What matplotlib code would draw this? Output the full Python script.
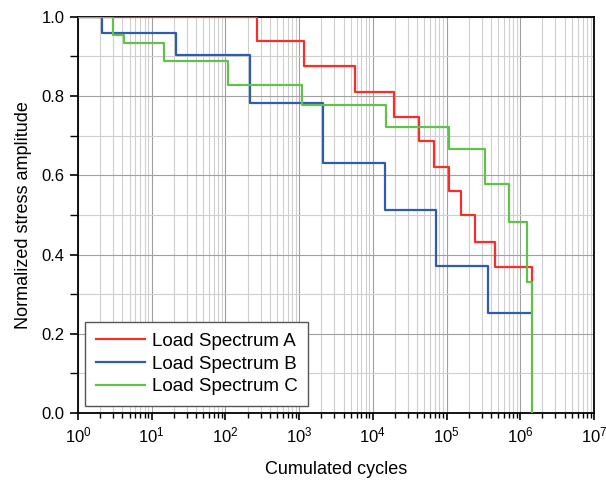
import matplotlib
matplotlib.use("Agg")
import matplotlib.pyplot as plt
import numpy as np
from matplotlib.ticker import LogLocator, MultipleLocator

plt.rcParams['font.family'] = ['Liberation Sans', 'DejaVu Sans']

# Step breakpoints (cumulated cycles) and levels (normalized stress amplitude)
cycles_A = [1, 270, 1170, 5700, 19500, 42500, 67600, 107000, 158000, 245000, 455000, 1450000]
levels_A = [1.0, 0.939, 0.876, 0.81, 0.747, 0.687, 0.621, 0.56, 0.50, 0.432, 0.369, 0.333]

cycles_B = [1, 2.1, 21.4, 215, 2130, 14700, 72000, 365000, 1400000]
levels_B = [1.0, 0.96, 0.904, 0.783, 0.631, 0.513, 0.371, 0.253, 0.253]

cycles_C = [1, 2.97, 4.2, 14.7, 109, 1090, 15100, 107000, 333000, 708000, 1230000, 1450000]
levels_C = [1.0, 0.955, 0.934, 0.889, 0.828, 0.778, 0.722, 0.667, 0.578, 0.482, 0.331, 0.0]

labels = ["Load Spectrum A", "Load Spectrum B", "Load Spectrum C"]
colors = ["#F5302B", "#2F5BB0", "#62C04C"]

fig = plt.figure(figsize=(6.06, 4.82), dpi=100)
ax = fig.add_axes([0.1287, 0.143, 0.8515, 0.822])

for cyc, lev, lab, col in zip([cycles_A, cycles_B, cycles_C],
                              [levels_A, levels_B, levels_C], labels, colors):
    ax.step(cyc, lev, where='post', color=col, lw=1.6, label=lab, zorder=3)

ax.set_xscale('log')
ax.set_xlim(1, 1e7)
ax.set_ylim(0, 1.0)
ax.xaxis.set_major_locator(LogLocator(base=10, numticks=20))
ax.xaxis.set_minor_locator(LogLocator(base=10, subs=np.arange(2, 10), numticks=100))
ax.yaxis.set_major_locator(MultipleLocator(0.2))
ax.yaxis.set_minor_locator(MultipleLocator(0.1))
ax.yaxis.set_major_formatter(matplotlib.ticker.FormatStrFormatter('%.1f'))

ax.grid(True, which='major', color='#A0A0A0', lw=0.8, zorder=0)
ax.grid(True, which='minor', color='#CFCFCF', lw=0.8, zorder=0)
ax.set_axisbelow(True)

ax.tick_params(axis='x', which='major', direction='out', length=5, width=1.2, labelsize=12,
               top=False, right=False, pad=4)
ax.tick_params(axis='x', which='minor', direction='out', length=3.5, width=1.0, top=False)
ax.tick_params(axis='y', which='major', direction='out', length=6, width=1.2, labelsize=12,
               right=False)
ax.tick_params(axis='y', which='minor', direction='out', length=6, width=1.0, right=False)
for s in ax.spines.values():
    s.set_linewidth(1.3)

ax.set_xlabel("Cumulated cycles", fontsize=13, labelpad=11)
ax.set_ylabel("Normalized stress amplitude", fontsize=13, labelpad=7)

leg = ax.legend(loc='lower left', fontsize=13.5, frameon=True, fancybox=False,
                edgecolor='#555555', framealpha=1, borderaxespad=0.4,
                handlelength=2.6, handletextpad=0.4, labelspacing=0.3,
                borderpad=0.55)
leg.get_frame().set_linewidth(1.0)

fig.savefig("out.png", dpi=100)
